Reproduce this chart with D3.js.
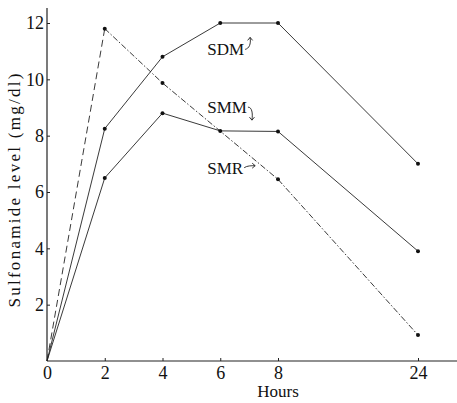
<!DOCTYPE html>
<html>
<head>
<meta charset="utf-8">
<script src="https://cdn.jsdelivr.net/npm/d3@7"></script>
<style>
body { margin: 0; background: #fff; }
</style>
</head>
<body>
<div id="main"></div>
<script>
var width = 457,
    height = 403;
var serif = "'Liberation Serif', 'DejaVu Serif', serif";

// hours (x axis is compressed after 8 h)
var hours = [0, 2, 4, 6, 8, 24];
var xTicks = [0, 2, 4, 6, 8, 24];
var yTicks = [2, 4, 6, 8, 10, 12];

// sulfonamide level, mg/dl
var sdm = [0, 8.25, 10.8, 12.0, 12.0, 7.0];
var smm = [0, 6.5, 8.8, 8.17, 8.15, 3.9];
var smrHours = [0, 2, 4, 8, 24];
var smr = [0, 11.8, 9.87, 6.45, 0.92];

var x = d3.scaleLinear().domain([0, 8, 24]).range([47, 278, 418]);
var y = d3.scaleLinear().domain([0, 12]).range([361, 23]);

var svg = d3.select("#main").append("svg")
    .attr("width", width)
    .attr("height", height);

// axes lines
svg.append("line")
    .attr("x1", x(0)).attr("x2", x(0))
    .attr("y1", y(0)).attr("y2", 8)
    .attr("stroke", "#222").attr("stroke-width", 1.2);
svg.append("line")
    .attr("x1", x(0)).attr("x2", width)
    .attr("y1", y(0)).attr("y2", y(0))
    .attr("stroke", "#222").attr("stroke-width", 1.2);

var yAxis = svg.append("g")
    .attr("transform", "translate(" + x(0) + ",0)")
    .attr("font-family", serif)
    .call(d3.axisLeft(y).tickValues(yTicks).tickSizeInner(-3).tickSizeOuter(0).tickPadding(3));
yAxis.attr("font-family", serif).attr("font-size", 18);
yAxis.select(".domain").remove();

var xAxis = svg.append("g")
    .attr("transform", "translate(0," + y(0) + ")")
    .call(d3.axisBottom(x).tickValues(xTicks).tickSizeInner(-3).tickSizeOuter(0).tickPadding(5).tickFormat(d3.format("d")));
xAxis.attr("font-family", serif).attr("font-size", 18);
xAxis.select(".domain").remove();
svg.selectAll(".tick line").attr("stroke", "#222");
svg.selectAll(".tick text").attr("fill", "#111");

// axis titles
svg.append("text")
    .attr("transform", "translate(20," + y(6.05) + ") rotate(-90)")
    .attr("text-anchor", "middle")
    .attr("font-family", serif)
    .attr("font-size", 17)
    .attr("fill", "#111")
    .attr("textLength", 234)
    .attr("lengthAdjust", "spacing")
    .text("Sulfonamide level (mg/dl)");

svg.append("text")
    .attr("x", x(8))
    .attr("y", 397)
    .attr("text-anchor", "middle")
    .attr("font-family", serif)
    .attr("font-size", 17)
    .attr("fill", "#111")
    .text("Hours");

// series
var line = d3.line()
    .x(function(d) { return x(d[0]); })
    .y(function(d) { return y(d[1]); });

function dots(pts) {
    svg.selectAll(null)
        .data(pts)
        .enter().append("circle")
        .attr("cx", function(d) { return x(d[0]); })
        .attr("cy", function(d) { return y(d[1]); })
        .attr("r", 2)
        .attr("fill", "#111");
}

function drawPath(pts, dash) {
    svg.append("path")
        .datum(pts)
        .attr("d", line)
        .attr("fill", "none")
        .attr("stroke", "#222")
        .attr("stroke-width", 0.9)
        .attr("stroke-dasharray", dash);
}

var sdmPts = hours.map(function(h, i) { return [h, sdm[i]]; });
var smmPts = hours.map(function(h, i) { return [h, smm[i]]; });
var smrPts = smrHours.map(function(h, i) { return [h, smr[i]]; });

drawPath(sdmPts, null);
drawPath(smmPts, null);
// SMR: long dashes for the rise, dash-dot afterwards
drawPath(smrPts.slice(0, 2), "7,4");
drawPath(smrPts.slice(1), "6,2,1.5,2");
dots(sdmPts.slice(1));
dots(smmPts.slice(1));
dots(smrPts.slice(1));

// labels with little hand-drawn arrows
var labels = [
    {name: "SDM", h: 5.55, v: 10.85, arrow: "c 4,-1 6,-5 5,-12", tip: [0, -1]},
    {name: "SMM", h: 5.55, v: 8.8, arrow: "c 4,0 5,6 4,13", tip: [0, 1]},
    {name: "SMR", h: 5.55, v: 6.65, arrow: "c 3,-2 7,-2 11,-2", tip: [1, 0]}
];

labels.forEach(function(l) {
    var t = svg.append("text")
        .attr("x", x(l.h))
        .attr("y", y(l.v))
        .attr("font-family", serif)
        .attr("font-size", 17)
        .attr("fill", "#111")
        .text(l.name);
    var w = t.node().getComputedTextLength();
    var sx = x(l.h) + w + 1, sy = y(l.v) - 6;
    var p = svg.append("path")
        .attr("d", "M" + sx + "," + sy + " " + l.arrow)
        .attr("fill", "none")
        .attr("stroke", "#222")
        .attr("stroke-width", 0.9);
    var end = p.node().getPointAtLength(p.node().getTotalLength());
    var dx = l.tip[0], dy = l.tip[1];
    // two barbs going back from the tip
    svg.append("path")
        .attr("d", "M" + (end.x - dx * 3 - dy * 2.5) + "," + (end.y - dy * 3 - dx * 2.5) +
            " L" + end.x + "," + end.y +
            " L" + (end.x - dx * 3 + dy * 2.5) + "," + (end.y - dy * 3 + dx * 2.5))
        .attr("fill", "none")
        .attr("stroke", "#222")
        .attr("stroke-width", 0.9);
});
</script>
</body>
</html>
